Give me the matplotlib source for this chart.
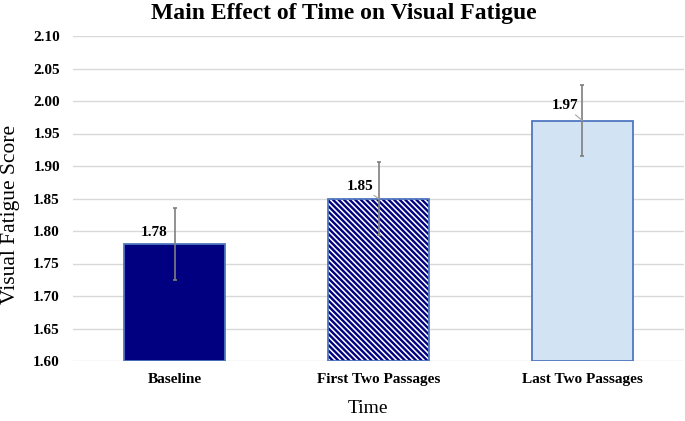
import numpy as np
import matplotlib
matplotlib.use('Agg')
import matplotlib.pyplot as plt

# values
categories = ['Baseline', 'First Two Passages', 'Last Two Passages']
scores = [1.78, 1.85, 1.97]
errors = [0.055, 0.056, 0.055]
yticks = [1.60, 1.65, 1.70, 1.75, 1.80, 1.85, 1.90, 1.95, 2.00, 2.05, 2.10]

plt.rcParams['font.family'] = ['Liberation Serif', 'DejaVu Serif']
plt.rcParams['hatch.linewidth'] = 1.7

fig = plt.figure(figsize=(6.85, 4.21), dpi=100)
ax = fig.add_axes([73 / 685, 1 - 361 / 421, (684 - 73) / 685, (361 - 36) / 421])

x = np.arange(len(categories))
faces = ['#000080', 'white', '#d2e4f4']
hatch_cols = ['#000080', '#000080', '#d2e4f4']
hatches = [None, '\\' * 6, None]
edge = '#5077c0'

for i in range(len(categories)):
    # fill (and hatch), then the outline on top
    ax.bar(x[i], scores[i] - 1.60, bottom=1.60, width=0.496, color=faces[i],
           edgecolor=hatch_cols[i], linewidth=0, hatch=hatches[i], zorder=2)
    ax.bar(x[i], scores[i] - 1.60, bottom=1.60, width=0.496, fill=False,
           edgecolor=edge, linewidth=1.3, zorder=2.5)

ax.errorbar(x, scores, yerr=errors, fmt='none', ecolor='#7f7f7f',
            elinewidth=1.2, capsize=1.6, capthick=1.2, zorder=3)

# data labels sit up-left of the bar top, Excel-style leader lines
label_offsets = [(-14.8, 8.6), (-13, 9), (-12.6, 10.8)]
show_leader = [False, True, True]
for i in range(len(categories)):
    arrow = dict(arrowstyle='-', color='#a6a6a6', lw=0.8, shrinkA=0, shrinkB=0) if show_leader[i] else None
    ax.annotate(f'{scores[i]:.2f}', (x[i], scores[i]), xytext=label_offsets[i],
                textcoords='offset points', ha='center', va='center',
                fontsize=11, fontweight='bold', arrowprops=arrow, zorder=4)

ax.set_ylim(1.60, 2.10)
ax.set_yticks(yticks)
ax.set_yticklabels([f'{v:.2f}' for v in yticks], fontsize=11, fontweight='bold')
ax.set_xlim(-0.5, 2.5)
ax.set_xticks(x)
ax.set_xticklabels(categories, fontsize=11, fontweight='bold')
ax.tick_params(axis='y', length=0, pad=9.4)
ax.tick_params(axis='x', length=0, pad=8.4)
ax.grid(axis='y', color='#d9d9d9', linewidth=1, zorder=0)
ax.set_axisbelow(True)
for s in ax.spines.values():
    s.set_visible(False)

ax.set_ylabel('Visual Fatigue Score', fontsize=15.5)
ax.yaxis.set_label_coords(-0.087, 0.452)
ax.set_xlabel('Time', fontsize=14)
ax.xaxis.set_label_coords(0.482, -0.121)
fig.text(344 / 685, 1 - 13 / 421, 'Main Effect of Time on Visual Fatigue',
         ha='center', va='center', fontsize=17, fontweight='bold')

fig.savefig('out.png', dpi=100)
